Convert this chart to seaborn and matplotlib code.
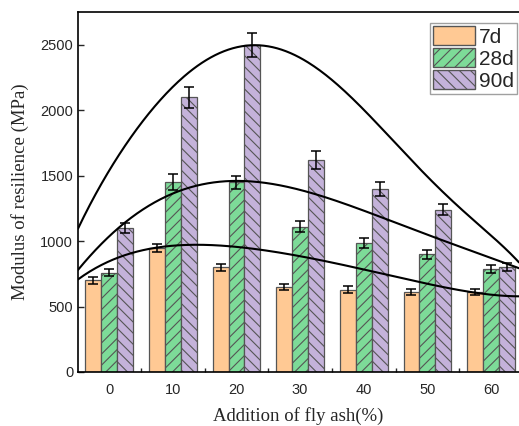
import numpy as np
import pandas as pd
import matplotlib
matplotlib.use("Agg")
import matplotlib.pyplot as plt
import seaborn as sns
from matplotlib.ticker import FixedLocator
from matplotlib.container import BarContainer

# ---- data ----
categories = ["0", "10", "20", "30", "40", "50", "60"]
series = ["7d", "28d", "90d"]
v7 = [700, 950, 800, 650, 630, 610, 610]
v28 = [760, 1450, 1450, 1110, 985, 900, 790]
v90 = [1100, 2100, 2500, 1620, 1400, 1240, 800]
e7 = [28, 30, 25, 25, 25, 22, 22]
e28 = [30, 60, 50, 40, 35, 35, 30]
e90 = [35, 80, 90, 70, 55, 40, 30]

# fitted curves (x in category index units)
top_x = [-0.49, -0.25, 0.2, 0.8, 1.3, 1.8, 2.23, 2.6, 3.17, 3.94, 4.62, 5.4, 5.87, 6.44]
top_y = [1100, 1315, 1697, 2090, 2290, 2445, 2500, 2480, 2370, 2003, 1697, 1315, 1086, 840]
mid_x = [-0.49, 0.19, 0.49, 1.08, 2.03, 3.17, 4.25, 4.74, 5.2, 6.44]
mid_y = [780, 1124, 1215, 1391, 1455, 1368, 1187, 1101, 1009, 793]
low_x = [-0.49, 0.55, 1.45, 2.9, 4.14, 4.85, 6.44]
low_y = [707, 933, 971, 894, 767, 690, 578]

colors = ["#FFC994", "#7DDB98", "#C4B2DA"]
hatches = ["", "///", "\\\\\\"]

df = pd.DataFrame({
    "x": categories * 3,
    "series": sum([[s] * len(categories) for s in series], []),
    "value": v7 + v28 + v90,
})

sns.set_style("ticks")
plt.rcParams["font.family"] = ["Liberation Sans", "DejaVu Sans"]
plt.rcParams["hatch.linewidth"] = 0.8

fig = plt.figure(figsize=(5.19, 4.26), dpi=100)
ax = fig.add_axes([0.1503, 0.1268, 0.8497, 0.845])

sns.barplot(data=df, x="x", y="value", hue="series", order=categories,
            hue_order=series, palette=colors, width=0.75, errorbar=None,
            saturation=1, ax=ax, legend=True)

errs = [e7, e28, e90]
vals = [v7, v28, v90]
bar_conts = [c for c in ax.containers if isinstance(c, BarContainer)]
for i, cont in enumerate(bar_conts):
    xs = []
    for p in cont.patches:
        p.set_edgecolor("#555555")
        p.set_linewidth(0.9)
        p.set_hatch(hatches[i])
        xs.append(p.get_x() + p.get_width() / 2)
    ax.errorbar(xs, vals[i], yerr=errs[i], fmt="none", ecolor="black",
                elinewidth=1.1, capsize=3.5, capthick=1.1, zorder=5)

for cx, cy, deg in [(top_x, top_y, 6), (mid_x, mid_y, 5), (low_x, low_y, 5)]:
    coef = np.polyfit(cx, cy, deg)
    xx = np.linspace(-0.49, 6.44, 300)
    ax.plot(xx, np.polyval(coef, xx), color="black", lw=1.5, zorder=6)

ax.set_xlim(-0.49, 6.44)
ax.set_ylim(0, 2750)
ax.set_yticks([0, 500, 1000, 1500, 2000, 2500])
ax.xaxis.set_minor_locator(FixedLocator(np.arange(0.5, 6.5, 1)))
ax.tick_params(axis="x", which="major", length=0, labelsize=10.5, pad=8)
ax.tick_params(axis="x", which="minor", length=3, direction="in", width=1)
ax.tick_params(axis="y", which="major", length=4, direction="in", width=1,
               labelsize=10.5)
for s in ["left", "bottom", "top"]:
    ax.spines[s].set_linewidth(1.2)
    ax.spines[s].set_color("black")
ax.spines["right"].set_visible(False)

ax.set_xlabel("Addition of fly ash(%)", family=["Liberation Serif"], fontsize=13.5,
              labelpad=7)
ax.set_ylabel("Modulus of resilience (MPa)", family=["Liberation Serif"],
              fontsize=13.5, labelpad=8)

handles, labels = ax.get_legend_handles_labels()
for h, hh in zip(handles, hatches):
    h.set_hatch(hh)
    h.set_edgecolor("#555555")
leg = ax.legend(handles, labels, loc="upper right", bbox_to_anchor=(1.0, 0.975),
                fontsize=15, handlelength=2.0, handleheight=1.0,
                labelspacing=0.08, borderpad=0.15, handletextpad=0.2,
                borderaxespad=0.1, fancybox=False, frameon=True)
leg.get_frame().set_edgecolor("#888888")
leg.get_frame().set_linewidth(1.0)

fig.savefig("out.png", dpi=100)
